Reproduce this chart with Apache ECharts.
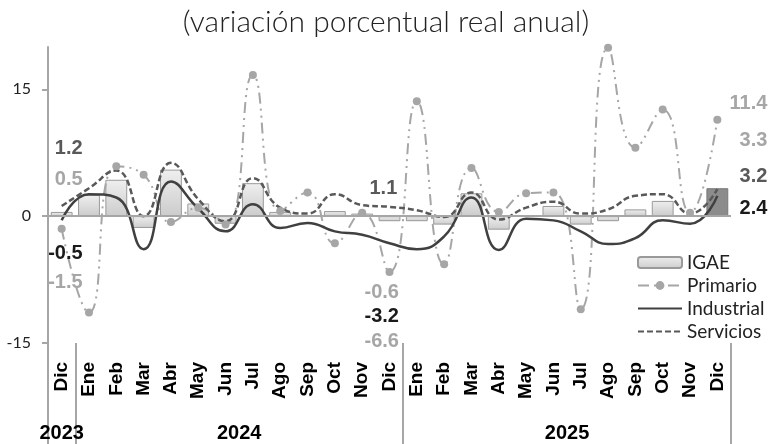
<!DOCTYPE html>
<html>
<head>
<meta charset="utf-8">
<script src="https://cdn.jsdelivr.net/npm/echarts@6/dist/echarts.min.js"></script>
<style>
  html, body { margin: 0; padding: 0; background: #fff; }
  #main { width: 772px; height: 444px; }
</style>
</head>
<body>
<div id="main"></div>
<script>
const categories = ['Dic', 'Ene', 'Feb', 'Mar', 'Abr', 'May', 'Jun', 'Jul', 'Ago', 'Sep', 'Oct', 'Nov',
  'Dic', 'Ene', 'Feb', 'Mar', 'Abr', 'May', 'Jun', 'Jul', 'Ago', 'Sep', 'Oct', 'Nov', 'Dic'];
const years = ['2023', '2024', '2025'];
const monthsPerYear = [1, 12, 12];
const yTicks = [-15, 0, 15];

const igae = [0.5, 2.5, 4.3, -1.4, 5.5, 1.5, -0.9, 3.9, 0.5, 0.1, 0.6, 0.3,
  -0.6, -0.6, -1.0, 2.7, -1.6, 0.1, 1.2, -1.0, -0.6, 0.8, 1.8, 0.0, 3.3];
const primario = [-1.5, -11.4, 5.9, 4.9, -0.7, 1.0, -1.0, 16.7, 0.6, 2.8, -3.2, 0.4,
  -6.6, 13.6, -5.7, 5.7, 0.5, 2.7, 2.8, -11.0, 19.9, 8.1, 12.6, 0.4, 11.4];
const industrial = [-0.5, 2.6, 2.2, -3.9, 4.1, 0.9, -1.8, 1.4, -1.4, -0.8, -1.8, -2.2,
  -3.2, -3.9, -2.4, 2.2, -4.0, -0.3, -0.5, -1.8, -3.3, -2.6, -0.5, -0.9, 2.4];
const servicios = [1.2, 3.3, 5.4, 0.0, 6.3, 2.0, -0.6, 4.5, 1.0, 0.3, 2.6, 1.3,
  1.1, 0.7, -0.1, 2.8, -0.4, 1.0, 1.7, 0.3, 0.8, 2.4, 2.6, 0.3, 3.2];

// year separators and year label positions on the category scale
const yearBounds = [0];
monthsPerYear.forEach(n => yearBounds.push(yearBounds[yearBounds.length - 1] + n));
const yearCenters = years.map((y, i) => (yearBounds[i] + yearBounds[i + 1]) / 2);

const lightGray = '#a6a6a6';
const midGray = '#595959';
const dark = '#1a1a1a';
const lastIdx = categories.length - 1;

// end-of-year value labels (offsets in px from the point)
function withLabels(values, labels, color) {
  return values.map((v, i) => {
    if (!labels[i]) return v;
    return {
      value: v,
      label: Object.assign({
        show: true, position: 'inside', color: color,
        fontFamily: 'Liberation Sans', fontWeight: 'bold', fontSize: 20,
        verticalAlign: 'middle',
        formatter: p => p.value.toFixed(1)
      }, labels[i])
    };
  });
}

const igaeData = withLabels(igae, {
  0: { align: 'right', offset: [21, -35] },
  12: { align: 'left', offset: [-25, 74] },
  24: { align: 'right', offset: [50, -62] }
}, lightGray);
igaeData[lastIdx] = Object.assign({}, igaeData[lastIdx], {
  itemStyle: { color: '#8c8c8c', borderColor: '#777' }
});

const chart = echarts.init(document.getElementById('main'), null, { renderer: 'canvas' });

chart.setOption({
  animation: false,
  backgroundColor: '#fff',
  title: {
    text: '(variación porcentual real anual)',
    left: 'center',
    top: 2,
    textStyle: { fontFamily: 'Lato', fontWeight: 300, fontSize: 30, color: '#222' }
  },
  grid: { left: 48, right: 41, top: 47, bottom: 101 },
  legend: {
    orient: 'vertical',
    left: 632,
    top: 248,
    itemWidth: 44,
    itemHeight: 11,
    itemGap: 4,
    textStyle: { fontFamily: 'Lato', fontSize: 19, color: '#222' },
    data: [
      { name: 'IGAE' },
      { name: 'Primario' },
      { name: 'Industrial', itemStyle: { opacity: 0 } },
      { name: 'Servicios', itemStyle: { opacity: 0 } }
    ]
  },
  xAxis: [{
    type: 'category',
    data: categories,
    position: 'bottom',
    axisLine: { show: false, onZero: false },
    axisTick: { show: false },
    axisLabel: {
      interval: 0, rotate: 90, margin: 19,
      fontFamily: 'Liberation Sans', fontWeight: 'bold', fontSize: 19, color: '#000'
    }
  }, {
    type: 'value',
    min: 0,
    max: categories.length,
    position: 'bottom',
    axisLine: { show: false, onZero: false },
    splitLine: { show: false },
    axisTick: {
      show: true, length: 101, customValues: yearBounds,
      lineStyle: { color: lightGray, width: 2 }
    },
    axisLabel: {
      customValues: yearCenters, margin: 80,
      fontFamily: 'Liberation Sans', fontWeight: 'bold', fontSize: 20, color: '#000',
      formatter: v => years[yearCenters.indexOf(v)]
    }
  }],
  yAxis: {
    type: 'value',
    min: -15,
    max: 20,
    axisLine: { show: true, lineStyle: { color: lightGray, width: 2 } },
    axisTick: { show: true, length: 6, customValues: yTicks, lineStyle: { color: lightGray, width: 2 } },
    axisLabel: { customValues: yTicks, margin: 17, fontFamily: 'Lato', fontSize: 16, color: '#222' },
    splitLine: { show: false }
  },
  series: [{
    name: 'IGAE',
    type: 'bar',
    barCategoryGap: '20%',
    data: igaeData,
    itemStyle: {
      color: new echarts.graphic.LinearGradient(0, 0, 0, 1, [
        { offset: 0, color: '#efefef' },
        { offset: 1, color: '#cccccc' }
      ]),
      borderColor: '#9a9a9a',
      borderWidth: 1
    },
    markLine: {
      silent: true,
      symbol: ['none', 'none'],
      label: { show: false },
      lineStyle: { color: lightGray, width: 2, type: 'solid' },
      data: [{ yAxis: 0 }]
    }
  }, {
    name: 'Primario',
    type: 'line',
    smooth: 0.5,
    data: withLabels(primario, {
      0: { align: 'right', offset: [21, 54] },
      12: { align: 'left', offset: [-25, 70] },
      24: { align: 'right', offset: [50, -16] }
    }, lightGray),
    symbol: 'circle',
    symbolSize: 8,
    itemStyle: { color: lightGray },
    lineStyle: { color: lightGray, width: 2, type: [11, 5, 2, 5, 2, 5] }
  }, {
    name: 'Industrial',
    type: 'line',
    smooth: 0.5,
    data: withLabels(industrial, {
      0: { align: 'right', offset: [21, 33] },
      12: { align: 'left', offset: [-25, 73] },
      24: { align: 'right', offset: [50, 13] }
    }, dark),
    symbol: 'circle',
    symbolSize: 0,
    itemStyle: { color: '#404040' },
    lineStyle: { color: '#404040', width: 2.5 }
  }, {
    name: 'Servicios',
    type: 'line',
    smooth: 0.5,
    data: withLabels(servicios, {
      0: { align: 'right', offset: [21, -58] },
      12: { align: 'left', offset: [-20, -18] },
      24: { align: 'right', offset: [50, -13] }
    }, midGray),
    symbol: 'circle',
    symbolSize: 0,
    itemStyle: { color: midGray },
    lineStyle: { color: midGray, width: 2.5, type: [6, 3] }
  }]
});
</script>
</body>
</html>
